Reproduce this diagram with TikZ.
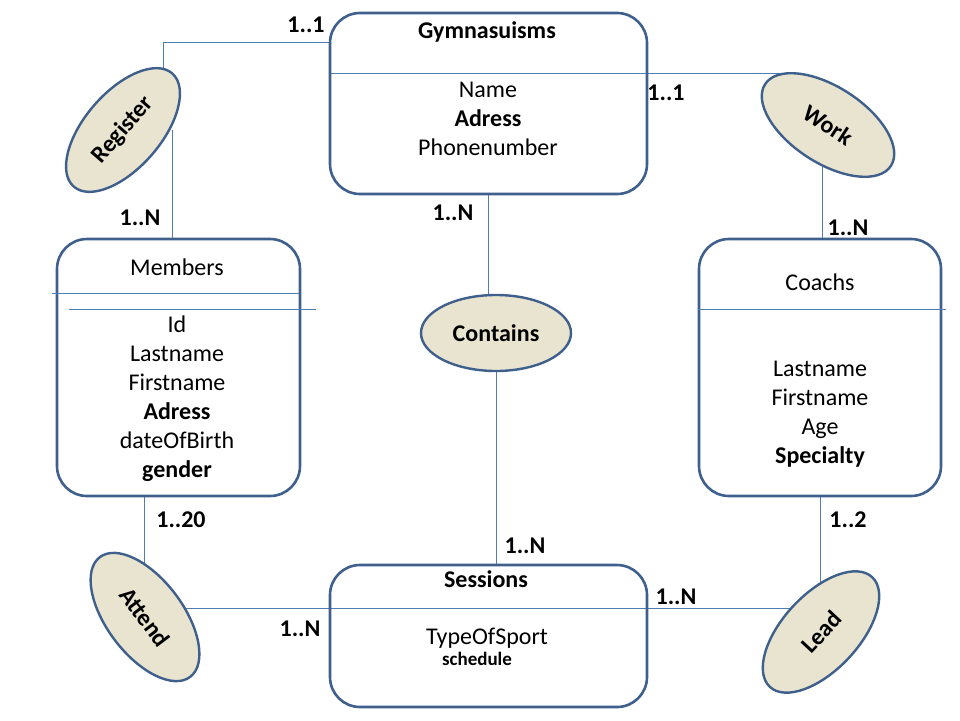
\documentclass[tikz,border=0pt]{standalone}
\usepackage{fontspec}
\setmainfont{Carlito}
\usetikzlibrary{shapes.geometric,positioning,backgrounds}
\definecolor{edgeblue}{HTML}{3F5F8C}
\definecolor{linkblue}{HTML}{4F7DB5}
\definecolor{relfill}{HTML}{E8E4CF}

\begin{document}
\begin{tikzpicture}[x=1pt,y=-1pt,
  entity/.style={draw=edgeblue,line width=2.6pt,rounded corners=30pt,inner sep=0pt},
  rel/.style={ellipse,draw=edgeblue,line width=2.4pt,fill=relfill,minimum width=150pt,minimum height=76pt,inner sep=0pt,font=\fontsize{24}{29}\selectfont\bfseries},
  link/.style={draw=linkblue,line width=1pt},
  card/.style={font=\fontsize{24}{29}\selectfont\bfseries},
  attr/.style={align=center,font=\fontsize{24}{29}\selectfont}]
  \useasboundingbox (0,0) rectangle (960,720);

  % entities
  \node[entity,minimum width=317pt,minimum height=181pt] (gym) at (488.5,103.5) {};
  \node[entity,minimum width=243pt,minimum height=257pt] (mem) at (178.5,367.5) {};
  \node[entity,minimum width=242pt,minimum height=257pt] (coach) at (820,367.5) {};
  \node[entity,minimum width=317pt,minimum height=142pt] (sess) at (488.5,636) {};

  \node[attr,font=\fontsize{24}{29}\selectfont\bfseries] (gymname) at (487,32) {Gymnasuisms};
  \node[attr] (gymattr) at (488,119) {Name\\\textbf{Adress}\\Phonenumber};
  \node[attr] (memname) at (177,267) {Members};
  \node[attr] (memattr) at (177,399) {Id\\Lastname\\Firstname\\\textbf{Adress}\\dateOfBirth\\\textbf{gender}};
  \node[attr] (coachname) at (820,282) {Coachs};
  \node[attr] (coachattr) at (820,414) {Lastname\\Firstname\\Age\\\textbf{Specialty}};
  \node[attr,font=\fontsize{24}{29}\selectfont\bfseries] (sessname) at (486,579) {Sessions};
  \node[attr] (sessattr) at (487,638) {TypeOfSport};
  \node[attr,font=\fontsize{19}{23}\selectfont\bfseries] (sesssched) at (477,659) {schedule};

  % relations
  \node[rel,rotate=49] (reg) at (123,130) {Register};
  \node[rel] (contains) at (496,333) {Contains};
  \node[rel,rotate=-33] (work) at (828,125) {Work};
  \node[rel,rotate=-53] (attend) at (145,617) {Attend};
  \node[rel,rotate=47] (lead) at (821,632) {Lead};

  % dividers
  \draw[link] ([xshift=-4pt,yshift=-56pt]mem.north west) -- ([xshift=-2pt,yshift=-56pt]mem.north east);
  \draw[link] ([xshift=13pt,yshift=-72pt]mem.north west) -- ([xshift=15pt,yshift=-72pt]mem.north east);
  \draw[link] ([yshift=-72pt]coach.north west) -- ([xshift=4pt,yshift=-72pt]coach.north east);

  % connectors
  \begin{pgfonlayer}{background}
    \draw[link] ([xshift=40pt]reg.center) |- ([yshift=61.5pt]gym.west);
    \draw[link] ([xshift=-6.5pt]mem.north) -- ([xshift=-6.5pt]mem.north |- reg.center);
    \draw[link] (gym.south) -- (gym.south |- contains.center);
    \draw[link] (contains.center) -- (contains.center |- sess.north);
    \draw[link] ([yshift=30.5pt]gym.west) -- ([xshift=-44pt,yshift=52pt]work.center);
    \draw[link] ([xshift=2pt]coach.north) -- ([xshift=2pt]coach.north |- work.center);
    \draw[link] ([xshift=-34.5pt]mem.south) -- ([xshift=-34.5pt]mem.south |- attend.center);
    \draw[link] ([xshift=32pt,yshift=8.5pt]attend.center) -- ([xshift=-29pt,yshift=23.5pt]lead.center);
    \draw[link] (coach.south) -- (coach.south |- lead.center);
  \end{pgfonlayer}

  % cardinalities
  \node[card] (c1) at (306,25) {1..1};
  \node[card] (c2) at (140,218) {1..N};
  \node[card] (c3) at (666,93) {1..1};
  \node[card] (c4) at (453,213) {1..N};
  \node[card] (c5) at (848,228) {1..N};
  \node[card] (c6) at (181,520) {1..20};
  \node[card] (c7) at (525,546) {1..N};
  \node[card] (c8) at (848,520) {1..2};
  \node[card] (c9) at (300,629) {1..N};
  \node[card] (c10) at (676,597) {1..N};
\end{tikzpicture}
\end{document}
